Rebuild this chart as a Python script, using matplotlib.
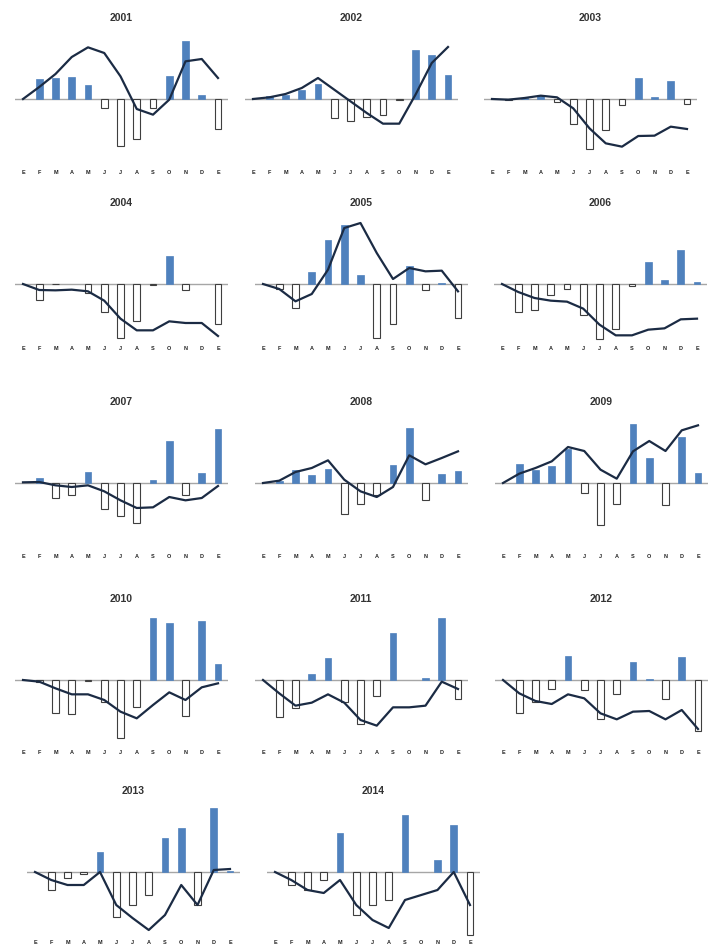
import numpy as np
import matplotlib.pyplot as plt

plt.rcParams['font.family'] = ['Liberation Sans', 'DejaVu Sans']

# Datos (unidades arbitrarias, barras = variación mensual,
# línea = acumulado desde el inicio del año)
meses = ['E', 'F', 'M', 'A', 'M', 'J', 'J', 'A', 'S', 'O', 'N', 'D', 'E']
anios = list(range(2001, 2015))

barras_2001 = [61, 64, 66, 43, -27, -142, -120, -27, 70, 175, 11, -90]
linea_2001 = [0, 36, 75, 126, 155, 138, 68, -30, -47, -2, 113, 120, 63]
barras_2002 = [8, 13, 28, 45, -57, -67, -54, -47, -3, 148, 131, 71]
linea_2002 = [0, 5, 15, 33, 63, 28, -7, -42, -74, -74, 13, 108, 156]
barras_2003 = [-2, 2, 10, -10, -76, -151, -93, -17, 62, 5, 54, -16]
linea_2003 = [0, -2, 3, 10, 5, -28, -88, -133, -143, -111, -110, -83, -90]
barras_2004 = [-49, -1, 0, -27, -84, -161, -112, -4, 83, -19, 0, -119]
linea_2004 = [0, -18, -19, -17, -22, -50, -104, -139, -139, -112, -117, -117, -156]
barras_2005 = [-15, -72, 35, 131, 178, 27, -162, -120, 53, -17, 2, -102]
linea_2005 = [0, -15, -52, -30, 43, 168, 183, 93, 15, 48, 38, 40, -22]
barras_2006 = [-85, -77, -34, -14, -92, -165, -134, -6, 65, 11, 103, 6]
linea_2006 = [0, -24, -42, -50, -53, -74, -122, -154, -154, -137, -133, -106, -104]
barras_2007 = [14, -45, -37, 33, -77, -100, -121, 8, 125, -37, 31, 163]
linea_2007 = [2, 3, -7, -12, -7, -25, -52, -75, -73, -42, -52, -45, -9]
barras_2008 = [5, 38, 23, 43, -92, -62, -37, 53, 166, -50, 28, 37]
linea_2008 = [0, 7, 33, 45, 68, 10, -25, -42, -12, 83, 56, 75, 95]
barras_2009 = [56, 38, 50, 103, -30, -127, -62, 176, 76, -67, 138, 31]
linea_2009 = [0, 28, 45, 65, 108, 96, 40, 13, 95, 126, 96, 158, 173]
barras_2010 = [-7, -100, -103, -4, -67, -173, -82, 185, 172, -108, 177, 47]
linea_2010 = [0, -5, -25, -43, -43, -60, -95, -115, -75, -37, -60, -22, -10]
barras_2011 = [-111, -85, 17, 67, -65, -133, -48, 142, 0, 5, 185, -58]
linea_2011 = [0, -40, -77, -68, -43, -68, -120, -137, -82, -82, -77, -5, -27]
barras_2012 = [-98, -65, -27, 72, -30, -118, -42, 53, 2, -58, 68, -152]
linea_2012 = [0, -40, -63, -72, -43, -55, -100, -118, -95, -93, -118, -90, -147]
barras_2013 = [-54, -18, -6, 60, -135, -99, -69, 102, 132, -99, 192, 3]
linea_2013 = [0, -24, -39, -39, 0, -99, -138, -174, -129, -39, -99, 6, 9]
barras_2014 = [-39, -54, -24, 117, -129, -99, -84, 171, 0, 36, 141, -189]
linea_2014 = [0, -24, -54, -63, -24, -99, -144, -168, -84, -69, -54, 0, -99]

barras = {2001: barras_2001, 2002: barras_2002, 2003: barras_2003, 2004: barras_2004,
          2005: barras_2005, 2006: barras_2006, 2007: barras_2007, 2008: barras_2008,
          2009: barras_2009, 2010: barras_2010, 2011: barras_2011, 2012: barras_2012,
          2013: barras_2013, 2014: barras_2014}
lineas = {2001: linea_2001, 2002: linea_2002, 2003: linea_2003, 2004: linea_2004,
          2005: linea_2005, 2006: linea_2006, 2007: linea_2007, 2008: linea_2008,
          2009: linea_2009, 2010: linea_2010, 2011: linea_2011, 2012: linea_2012,
          2013: linea_2013, 2014: linea_2014}

# posición de cada panel en píxeles: x del primer mes, y del cero, distancia a etiquetas
posiciones = {2001: (23, 99, 74), 2002: (253, 99, 74), 2003: (492, 99, 74),
              2004: (23, 284, 65), 2005: (263, 284, 65), 2006: (502, 284, 65),
              2007: (23, 483, 74), 2008: (263, 483, 74), 2009: (503, 483, 74),
              2010: (23, 680, 73), 2011: (263, 680, 73), 2012: (503, 680, 73),
              2013: (35, 872, 71), 2014: (275, 872, 71)}

W, H = 715, 950
paso = 16.25       # píxeles entre meses
escala = 3.0       # unidades de datos por píxel
ytop = 205

fig = plt.figure(figsize=(W / 100, H / 100), dpi=100)

for anio in anios:
    x0, y0, dist = posiciones[anio]
    ybot = -(dist - 6) * escala
    left = x0 - 0.5 * paso
    ancho = 13.1 * paso
    alto = (ytop - ybot) / escala
    top_px = y0 - ytop / escala
    ax = fig.add_axes([left / W, 1 - (top_px + alto) / H, ancho / W, alto / H])
    ax.set_xlim(0.5, 13.6)
    ax.set_ylim(ybot, ytop)

    b = np.array(barras[anio])
    xs = np.arange(2, 14)
    pos = b > 0
    neg = b < 0
    ax.axhline(0, color='#A6A6A6', lw=1.0, zorder=1)
    ax.bar(xs[pos], b[pos], width=0.42, color='#4F81BD', edgecolor='#4F81BD',
           linewidth=0.5, zorder=2)
    ax.bar(xs[neg], b[neg], width=0.42, color='white', edgecolor='#3F3F3F',
           linewidth=0.8, zorder=2)
    ax.plot(np.arange(1, 14), lineas[anio], color='#1B2B44', lw=1.6, zorder=3)

    ax.set_xticks(np.arange(1, 14))
    ax.set_xticklabels(meses, fontsize=4, fontweight='bold', color='#222222')
    ax.tick_params(axis='x', length=0, pad=2)
    ax.set_yticks([])
    for s in ax.spines.values():
        s.set_visible(False)
    ax.set_title(str(anio), fontsize=7.5, fontweight='bold', color='#333333', pad=7)

fig.savefig('out.png', dpi=100)
